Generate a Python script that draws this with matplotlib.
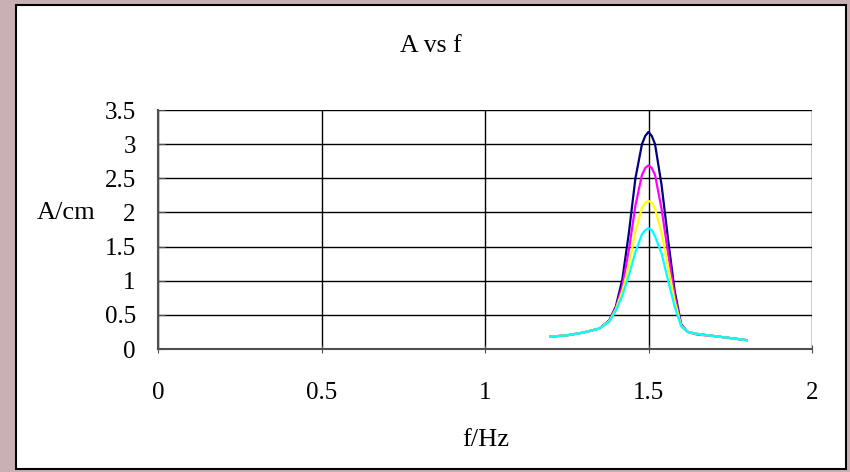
import matplotlib.pyplot as plt
from matplotlib.patches import Rectangle

# frequency (Hz) and amplitude (cm) for the four damping settings
freq = [1.20, 1.25, 1.30, 1.35, 1.38, 1.40, 1.42, 1.44, 1.46, 1.48, 1.49, 1.50,
        1.51, 1.52, 1.54, 1.56, 1.58, 1.60, 1.62, 1.65, 1.70, 1.75, 1.80]
amp_navy = [0.18, 0.20, 0.24, 0.30, 0.42, 0.62, 1.02, 1.70, 2.50, 3.00, 3.12, 3.18,
            3.12, 3.00, 2.40, 1.60, 0.85, 0.36, 0.25, 0.22, 0.19, 0.16, 0.13]
amp_magenta = [0.18, 0.20, 0.24, 0.30, 0.41, 0.60, 0.92, 1.45, 2.10, 2.55, 2.65, 2.69,
               2.65, 2.55, 2.05, 1.40, 0.78, 0.35, 0.25, 0.21, 0.19, 0.16, 0.13]
amp_yellow = [0.18, 0.20, 0.24, 0.30, 0.41, 0.58, 0.85, 1.22, 1.72, 2.07, 2.14, 2.17,
              2.14, 2.05, 1.70, 1.20, 0.70, 0.34, 0.25, 0.22, 0.19, 0.16, 0.13]
amp_cyan = [0.18, 0.20, 0.24, 0.30, 0.40, 0.56, 0.78, 1.08, 1.42, 1.68, 1.74, 1.77,
            1.74, 1.65, 1.40, 1.00, 0.62, 0.33, 0.25, 0.22, 0.19, 0.16, 0.13]

series = [(amp_navy, "#000080"), (amp_magenta, "#ff00ff"),
          (amp_yellow, "#ffff00"), (amp_cyan, "#00ffff")]

x_ticks = [0, 0.5, 1, 1.5, 2]
x_labels = ["0", "0.5", "1", "1.5", "2"]
y_ticks = [0, 0.5, 1, 1.5, 2, 2.5, 3, 3.5]
y_labels = ["0", "0.5", "1", "1.5", "2", "2.5", "3", "3.5"]

plt.rcParams["font.family"] = ["Liberation Serif", "DejaVu Serif"]

W, H = 850, 472
fig = plt.figure(figsize=(W / 100, H / 100), dpi=100)
fig.patch.set_facecolor("#c9b0b5")

# white chart panel with black frame
fig.patches.append(Rectangle((16 / W, 1 - 469 / H), 830 / W, 464 / H,
                             transform=fig.transFigure, facecolor="white",
                             edgecolor="black", linewidth=1.5, zorder=-5))

ax = fig.add_axes([158 / W, 1 - 349 / H, 654 / W, 239 / H])
ax.set_zorder(2)
ax.set_facecolor("white")

for amp, color in series:
    ax.plot(freq, amp, color=color, linewidth=1.6, zorder=3)

ax.set_xlim(0, 2)
ax.set_ylim(0, 3.5)
ax.set_xticks(x_ticks)
ax.set_xticklabels(x_labels)
ax.set_yticks(y_ticks)
ax.set_yticklabels(y_labels)
ax.grid(True, color="black", linewidth=1.0)
ax.set_axisbelow(True)

for side in ["top", "right"]:
    ax.spines[side].set_visible(False)
for side in ["left", "bottom"]:
    ax.spines[side].set_color("#505050")
    ax.spines[side].set_linewidth(1.5)

ax.tick_params(axis="x", direction="inout", length=6, color="#505050",
               labelsize=18, pad=21)
ax.tick_params(axis="y", direction="in", length=5, color="#505050",
               labelsize=18, pad=16)

fig.text(431 / W, 1 - 46 / H, "A vs f", ha="center", va="center", fontsize=18.5)
fig.text(66 / W, 1 - 213 / H, "A/cm", ha="center", va="center", fontsize=19)
fig.text(486 / W, 1 - 440 / H, "f/Hz", ha="center", va="center", fontsize=19)

fig.savefig("out.png", dpi=100, facecolor=fig.get_facecolor())
